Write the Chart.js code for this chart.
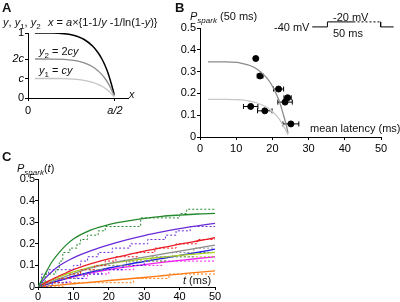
<!DOCTYPE html>
<html>
<head>
<meta charset="utf-8">
<script src="https://cdn.jsdelivr.net/npm/chart.js@4"></script>
<style>
body{margin:0;background:#fff;width:400px;height:302px;position:relative;overflow:hidden;font-family:"Liberation Sans",Arial,sans-serif;color:#111}
canvas{position:absolute}
.t{position:absolute;font-size:11px;line-height:12px;white-space:nowrap}
.L{font-weight:bold;font-size:13px;line-height:14px}
.s{font-size:8px;position:relative;top:3px}
</style>
</head>
<body>
<canvas id="chartA" width="145" height="120" style="left:0;top:0"></canvas>
<canvas id="chartB" width="230" height="160" style="left:170px;top:0"></canvas>
<canvas id="chartC" width="230" height="162" style="left:0;top:140px"></canvas>

<div class="t L" style="left:2px;top:1px">A</div>
<div class="t" style="left:3px;top:16px"><i>y</i>, <i>y</i><span class="s">1</span>, <i>y</i><span class="s">2</span></div>
<div class="t" style="left:48px;top:16px"><i>x</i> = <i>a</i>×{1-1/<i>y</i> -1/ln(1-<i>y</i>)}</div>
<div class="t" style="left:39px;top:45px"><i>y</i><span class="s">2</span> = 2<i>cy</i></div>
<div class="t" style="left:39px;top:64px"><i>y</i><span class="s">1</span> = <i>cy</i></div>
<div class="t" style="left:129px;top:88px"><i>x</i></div>

<div class="t L" style="left:175px;top:1px">B</div>
<div class="t" style="left:190px;top:10px"><i>P</i><span class="s"><i>spark</i></span> (50 ms)</div>
<div class="t" style="left:274px;top:21px">-40 mV</div>
<div class="t" style="left:333px;top:11px">-20 mV</div>
<div class="t" style="left:333px;top:27px">50 ms</div>
<div class="t" style="left:310px;top:122px">mean latency (ms)</div>

<div class="t L" style="left:2px;top:150px">C</div>
<div class="t" style="left:17px;top:162px"><i>P</i><span class="s"><i>spark</i></span>(<i>t</i>)</div>
<div class="t" style="left:183px;top:274px"><i>t</i> (ms)</div>

<script>
// A: normalised curve y(x) and the two scaled copies
const aX = [0.04, 0.144, 0.207, 0.235, 0.281, 0.323, 0.371, 0.402, 0.425, 0.443, 0.458, 0.470, 0.481, 0.491, 0.496]
const aY = [1, 0.999, 0.99, 0.98, 0.95, 0.9, 0.8, 0.7, 0.6, 0.5, 0.4, 0.3, 0.2, 0.1, 0.05]
const aY2 = [0.6, 0.599, 0.594, 0.588, 0.57, 0.54, 0.48, 0.42, 0.36, 0.3, 0.24, 0.18, 0.12, 0.06, 0.03]
const aY1 = [0.3, 0.3, 0.297, 0.294, 0.285, 0.27, 0.24, 0.21, 0.18, 0.15, 0.12, 0.09, 0.06, 0.03, 0.015]

// B: P_spark(50 ms) vs mean latency
const bLatency = [15.4, 16.6, 21.7, 24.2, 23.5, 14.0, 17.9, 25.1]
const bLatErr = [0.4, 0.8, 1.4, 1.0, 2.0, 2.0, 2.0, 2.2]
const bPspark = [0.36, 0.28, 0.22, 0.18, 0.16, 0.14, 0.12, 0.06]
const bCurveLat = [2.2, 7.1, 10.1, 11.5, 13.8, 15.8, 18.2, 19.7, 20.8, 21.7, 22.4, 23.0, 23.6, 24.1, 24.3]
const bCurveHigh = [0.345, 0.345, 0.342, 0.338, 0.328, 0.311, 0.276, 0.242, 0.207, 0.173, 0.138, 0.104, 0.069, 0.035, 0.017]
const bCurveLow = [0.173, 0.173, 0.171, 0.170, 0.164, 0.156, 0.138, 0.121, 0.104, 0.087, 0.069, 0.052, 0.035, 0.017, 0.009]
const protoX = [31.0, 35.2, 35.2, 42.4]
const protoY = [0.505, 0.505, 0.528, 0.528]
const protoDashX = [42.4, 49.9]
const protoDashY = [0.528, 0.528]
const protoEndX = [49.9, 49.9, 53.5]
const protoEndY = [0.528, 0.505, 0.505]

// C: fitted curves
const tFit = [0, 2, 4, 6, 8, 10, 15, 20, 25, 30, 35, 40, 45, 50]
const fitGreen = [0, 0.06, 0.118, 0.16, 0.195, 0.222, 0.264, 0.289, 0.305, 0.318, 0.327, 0.333, 0.338, 0.341]
const fitPurple = [0, 0.04, 0.072, 0.098, 0.118, 0.135, 0.168, 0.195, 0.218, 0.238, 0.255, 0.27, 0.283, 0.295]
const fitRed = [0, 0.02, 0.036, 0.052, 0.066, 0.08, 0.108, 0.13, 0.148, 0.166, 0.182, 0.198, 0.213, 0.228]
const fitGray = [0, 0.013, 0.026, 0.038, 0.05, 0.062, 0.088, 0.108, 0.124, 0.138, 0.152, 0.166, 0.18, 0.194]
const fitBlue = [0, 0.01, 0.02, 0.03, 0.04, 0.05, 0.07, 0.088, 0.104, 0.118, 0.132, 0.146, 0.16, 0.175]
const fitYellow = [0, 0.018, 0.033, 0.047, 0.06, 0.07, 0.092, 0.108, 0.12, 0.13, 0.138, 0.146, 0.153, 0.16]
const fitMagenta = [0, 0.01, 0.02, 0.03, 0.039, 0.047, 0.065, 0.08, 0.093, 0.104, 0.114, 0.123, 0.132, 0.14]
const fitOrange = [0, 0.003, 0.006, 0.009, 0.012, 0.015, 0.022, 0.03, 0.037, 0.044, 0.052, 0.06, 0.068, 0.075]

// C: measured cumulative steps [t, P]
const stepGreen = [[0,0],[1,0.02],[2,0.06],[5,0.08],[6,0.12],[7,0.16],[9,0.18],[11,0.2],[12,0.22],[14,0.24],[17,0.26],[19,0.28],[29,0.32],[40,0.34],[42,0.36],[50,0.36]]
const stepPurple = [[0,0],[1,0.06],[3,0.08],[10,0.1],[12,0.12],[14,0.14],[17,0.16],[21,0.18],[26,0.2],[31,0.22],[36,0.24],[39,0.26],[43,0.28],[50,0.28]]
const stepRed = [[0,0],[2,0.02],[6,0.04],[9,0.06],[12,0.08],[16,0.1],[19,0.12],[22,0.14],[28,0.16],[33,0.18],[39,0.2],[45,0.22],[50,0.22]]
const stepGray = [[0,0],[3,0.02],[7,0.04],[11,0.06],[15,0.08],[19,0.1],[25,0.12],[32,0.14],[38,0.16],[44,0.18],[50,0.18]]
const stepBlue = [[0,0],[4,0.02],[8,0.04],[13,0.06],[18,0.08],[24,0.1],[30,0.12],[36,0.14],[44,0.16],[50,0.16]]
const stepYellow = [[0,0],[2,0.02],[5,0.04],[8,0.06],[12,0.08],[18,0.1],[26,0.12],[36,0.14],[50,0.14]]
const stepMagenta = [[0,0],[3,0.02],[9,0.04],[14,0.06],[20,0.08],[27,0.1],[35,0.12],[50,0.12]]
const stepOrange = [[0,0],[7,0.02],[27,0.04],[37,0.06],[50,0.06]]

const FONT = '"Liberation Sans", Arial, sans-serif'
Chart.defaults.font.family = FONT
Chart.defaults.color = '#000'
Chart.defaults.animation = false
Chart.defaults.plugins.legend.display = false
Chart.defaults.plugins.tooltip.enabled = false
Chart.defaults.elements.point.radius = 0

const pts = (xs, ys) => xs.map((x, i) => ({x: x, y: ys[i]}))

function axis(isY, size, pad, extra) {
    return Object.assign({
        type: 'linear',
        grid: {drawOnChartArea: false, drawTicks: true, tickLength: 3, color: '#000', lineWidth: 1},
        border: {display: true, color: '#000', width: 1},
        ticks: {color: '#000', font: {size: 11}, padding: pad, maxRotation: 0},
        afterFit: (s) => { if (isY) s.width = size; else s.height = size }
    }, extra)
}

// ---------- A ----------
new Chart(document.getElementById('chartA'), {
    type: 'line',
    data: {datasets: [
        {data: pts(aX, aY1), borderColor: '#c4c4c4', borderWidth: 1.3, cubicInterpolationMode: 'monotone'},
        {data: pts(aX, aY2), borderColor: '#8c8c8c', borderWidth: 1.3, cubicInterpolationMode: 'monotone'},
        {data: pts(aX, aY), borderColor: '#000', borderWidth: 1.5, cubicInterpolationMode: 'monotone'}
    ]},
    options: {
        responsive: false,
        layout: {padding: {top: 33, right: 17, left: 0, bottom: 0}},
        scales: {
            x: axis(false, 22, 3, {min: 0, max: 0.575,
                afterBuildTicks: (s) => { s.ticks = [{value: 0}, {value: 0.5}] },
                ticks: {color: '#000', padding: 3, maxRotation: 0,
                    font: (c) => ({size: 11, style: c.tick && c.tick.value > 0 ? 'italic' : 'normal'}),
                    callback: (v) => v === 0 ? '0' : 'a/2'}}),
            y: axis(true, 28, 1, {min: 0, max: 1,
                afterBuildTicks: (s) => { s.ticks = [{value: 0}, {value: 0.3}, {value: 0.6}, {value: 1}] },
                ticks: {color: '#000', padding: 1,
                    font: (c) => ({size: 11, style: c.tick && c.tick.value > 0 && c.tick.value < 1 ? 'italic' : 'normal'}),
                    callback: (v) => ({0: '0', 0.3: 'c', 0.6: '2c', 1: '1'})[v]}})
        }
    }
})

// ---------- B ----------
const errData = []
bLatency.forEach((l, i) => {
    errData.push({x: l - bLatErr[i], y: bPspark[i]}, {x: l + bLatErr[i], y: bPspark[i]}, {x: l, y: null})
})

new Chart(document.getElementById('chartB'), {
    type: 'line',
    data: {datasets: [
        {data: pts(bCurveLat, bCurveLow), borderColor: '#c8c8c8', borderWidth: 1.3, cubicInterpolationMode: 'monotone'},
        {data: pts(bCurveLat, bCurveHigh), borderColor: '#8a8a8a', borderWidth: 1.3, cubicInterpolationMode: 'monotone'},
        {data: errData, borderColor: '#000', borderWidth: 1, spanGaps: false,
            pointStyle: 'line', rotation: 90, pointRadius: 2.5, pointBorderColor: '#000', pointBorderWidth: 1},
        {data: pts(bLatency, bPspark), showLine: false, pointRadius: 3, pointBorderWidth: 1,
            pointBackgroundColor: '#000', pointBorderColor: '#000'},
        {data: pts(protoX, protoY), borderColor: '#000', borderWidth: 1, clip: false},
        {data: pts(protoDashX, protoDashY), borderColor: '#000', borderWidth: 1, borderDash: [2, 2], clip: false},
        {data: pts(protoEndX, protoEndY), borderColor: '#000', borderWidth: 1, clip: false}
    ]},
    options: {
        responsive: false,
        layout: {padding: {top: 28, right: 19, left: 0, bottom: 0}},
        scales: {
            x: axis(false, 23, 2, {min: 0, max: 50, ticks: {color: '#000', font: {size: 11}, padding: 2, stepSize: 10, maxRotation: 0}}),
            y: axis(true, 30, 1, {min: 0, max: 0.5, ticks: {color: '#000', font: {size: 11}, padding: 1, stepSize: 0.1}})
        }
    }
})

// ---------- C ----------
const cSeries = [
    [fitGreen, stepGreen, '#24892e'],
    [fitPurple, stepPurple, '#6a2bd8'],
    [fitRed, stepRed, '#ec1c24'],
    [fitGray, stepGray, '#8c8c8c'],
    [fitYellow, stepYellow, '#a8d418'],
    [fitBlue, stepBlue, '#1f1fe6'],
    [fitMagenta, stepMagenta, '#f01cf0'],
    [fitOrange, stepOrange, '#ff7a12']
]
const cDatasets = []
cSeries.forEach(([fit, steps, col]) => {
    cDatasets.push({data: steps.map(p => ({x: p[0], y: p[1]})), stepped: 'before',
        borderColor: col, borderWidth: 1, borderDash: [2, 2]})
    cDatasets.push({data: pts(tFit, fit), borderColor: col, borderWidth: 1.3, cubicInterpolationMode: 'monotone'})
})

new Chart(document.getElementById('chartC'), {
    type: 'line',
    data: {datasets: cDatasets},
    options: {
        responsive: false,
        layout: {padding: {top: 39, right: 15, left: 0, bottom: 0}},
        scales: {
            x: axis(false, 15, 0, {min: 0, max: 50, ticks: {color: '#000', font: {size: 11}, padding: 0, stepSize: 10, maxRotation: 0}}),
            y: axis(true, 38, 0, {min: 0, max: 0.5, ticks: {color: '#000', font: {size: 11}, padding: 0, stepSize: 0.1}})
        }
    }
})
</script>
</body>
</html>
